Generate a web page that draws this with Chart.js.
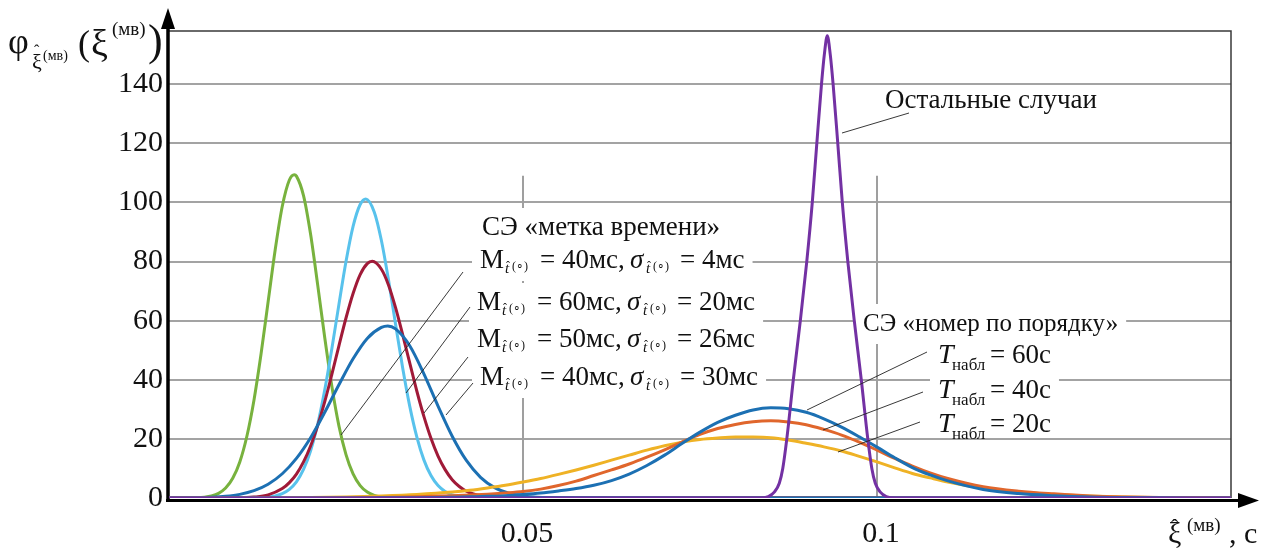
<!DOCTYPE html>
<html>
<head>
<meta charset="utf-8">
<script src="https://cdn.jsdelivr.net/npm/chart.js@4.4.0/dist/chart.umd.min.js"></script>
<style>
  body { margin: 0; background: #fff; }
</style>
</head>
<body>
<canvas id="chart" width="1269" height="549"></canvas>
<script>
const FONT = '"Liberation Serif", "Times New Roman", serif';

// axes
const xMax = 0.15;
const yMax = 158;
const yTicks = [0, 20, 40, 60, 80, 100, 120, 140];
const xTicks = [0.05, 0.1];
const xTickLabels = ['0.05', '0.1'];
const vGridTop = 109; // the two vertical grid lines start at this value

// "метка времени" curves
const greenX = [0, 0.004, 0.005, 0.006, 0.007, 0.008, 0.009, 0.010, 0.011, 0.012, 0.013, 0.014, 0.015, 0.016, 0.017, 0.0177, 0.018, 0.019, 0.020, 0.021, 0.022, 0.023, 0.024, 0.025, 0.026, 0.027, 0.028, 0.029, 0.030, 0.031, 0.032, 0.15];
const greenY = [0, 0.1, 0.27, 0.68, 1.57, 3.36, 6.66, 12.2, 20.9, 33.1, 48.7, 66.4, 84.0, 98.7, 107.6, 109.4, 108.9, 102.3, 89.2, 72.1, 54.2, 37.8, 24.4, 14.7, 8.15, 4.21, 2.02, 0.9, 0.37, 0.13, 0.04, 0];

const cyanX = [0, 0.014, 0.015, 0.016, 0.017, 0.018, 0.019, 0.020, 0.021, 0.022, 0.023, 0.024, 0.025, 0.026, 0.027, 0.0278, 0.029, 0.030, 0.031, 0.032, 0.033, 0.034, 0.035, 0.036, 0.037, 0.038, 0.039, 0.040, 0.041, 0.042, 0.043, 0.15];
const cyanY = [0, 0.31, 0.7, 1.47, 2.93, 5.48, 9.65, 16.0, 24.9, 36.6, 50.5, 65.5, 80.0, 91.9, 99.3, 101.2, 96.7, 87.1, 73.8, 58.8, 44.1, 31.1, 20.7, 12.9, 7.58, 4.19, 2.18, 1.07, 0.49, 0.21, 0.08, 0];

const redX = [0, 0.011, 0.012, 0.014, 0.016, 0.017, 0.018, 0.019, 0.020, 0.021, 0.022, 0.023, 0.024, 0.025, 0.026, 0.027, 0.028, 0.0287, 0.030, 0.031, 0.032, 0.033, 0.034, 0.035, 0.036, 0.037, 0.038, 0.039, 0.040, 0.041, 0.042, 0.043, 0.044, 0.046, 0.048, 0.15];
const redY = [0, 0.15, 0.3, 1.06, 3.18, 5.2, 8.1, 12.2, 17.6, 24.5, 32.6, 41.8, 51.5, 60.9, 69.2, 75.6, 79.3, 80.1, 77.4, 72.1, 64.4, 55.3, 45.7, 36.2, 27.6, 20.2, 14.2, 9.6, 6.2, 3.9, 2.3, 1.34, 0.74, 0.2, 0.05, 0];

const blueX = [0, 0.004, 0.006, 0.008, 0.010, 0.012, 0.014, 0.016, 0.018, 0.020, 0.022, 0.024, 0.026, 0.028, 0.030, 0.0309, 0.032, 0.034, 0.036, 0.038, 0.040, 0.042, 0.044, 0.046, 0.048, 0.050, 0.052, 0.055, 0.15];
const blueY = [0, 0.1, 0.24, 0.56, 1.22, 2.47, 4.65, 8.2, 13.4, 20.4, 29.0, 38.3, 47.1, 54.0, 57.7, 58.2, 57.2, 51.5, 42.0, 31.1, 20.9, 12.7, 7.0, 3.5, 1.6, 0.66, 0.25, 0.05, 0];

// "номер по порядку" curves, shared x grid
const wideX = [0, 0.015, 0.020, 0.025, 0.030, 0.035,
  0.040, 0.0425, 0.045, 0.0475, 0.050, 0.0525, 0.055, 0.0575, 0.060, 0.0625, 0.065, 0.0675, 0.070, 0.0725,
  0.075, 0.0775, 0.080, 0.0825, 0.085, 0.0875, 0.090, 0.0925, 0.095, 0.0975, 0.100, 0.1025, 0.105, 0.1075, 0.110,
  0.115, 0.120, 0.125, 0.130, 0.135, 0.140, 0.145, 0.150];
const t20Y = [0, 0.05, 0.15, 0.35, 0.7, 1.2,
  2.0, 2.6, 3.4, 4.3, 5.4, 6.6, 8.0, 9.5, 11.1, 12.8, 14.5, 16.2, 17.7, 18.9,
  19.8, 20.3, 20.6, 20.6, 20.4, 19.6, 18.5, 17.3, 15.9, 14.1, 12.2, 10.2, 8.3, 6.8, 5.4,
  3.3, 2.0, 1.2, 0.65, 0.3, 0.15, 0.05, 0];
const t40Y = [0, 0, 0.05, 0.1, 0.2, 0.4,
  0.8, 1.0, 1.3, 1.7, 2.2, 3.0, 4.2, 5.7, 7.6, 9.5, 11.5, 13.8, 16.3, 19.0,
  21.5, 23.5, 24.9, 25.8, 26.1, 25.7, 24.8, 23.2, 21.3, 18.9, 16.2, 13.4, 10.8, 8.5, 6.6,
  3.8, 2.3, 1.4, 0.7, 0.35, 0.15, 0.05, 0];
const t60Y = [0, 0, 0, 0, 0.05, 0.1,
  0.25, 0.4, 0.55, 0.8, 1.2, 1.7, 2.4, 3.2, 4.3, 5.9, 8.1, 11.0, 14.5, 18.5,
  22.3, 25.6, 28.0, 29.8, 30.5, 30.2, 29.0, 26.8, 24.0, 20.7, 17.2, 13.6, 10.3, 7.8, 5.8,
  2.9, 1.5, 0.8, 0.35, 0.15, 0.05, 0, 0];

// "Остальные случаи"
const purpleX = [0, 0.08338, 0.08465, 0.08549, 0.0862, 0.08669, 0.08726, 0.08818, 0.08917, 0.09008, 0.09086, 0.0915, 0.09216, 0.09256, 0.09298, 0.0934, 0.0938, 0.09446, 0.0951, 0.09588, 0.09679, 0.09778, 0.0987, 0.09927, 0.09976, 0.10047, 0.10131, 0.10258, 0.15];
const purpleY = [0, 0, 0.5, 2, 5, 10, 20, 40, 60, 80, 100, 120, 140, 150, 156.4, 150, 140, 120, 100, 80, 60, 40, 20, 10, 5, 2, 0.5, 0, 0];

function series(xs, ys, color, order) {
  return {
    data: xs.map((x, i) => ({ x: x, y: ys[i] })),
    borderColor: color,
    borderWidth: 3,
    pointRadius: 0,
    fill: false,
    cubicInterpolationMode: 'monotone',
    order: order
  };
}

// annotation text, in canvas pixels
const HAT = '\u02C6';
const mVals = [['40', '4'], ['60', '20'], ['50', '26'], ['40', '30']];
const mLeft = [480, 477, 477, 480];
const mBase = [268, 310, 347, 385];
const tVals = ['60', '40', '20'];
const tBase = [363, 398, 432];

// t̂(∘) subscript drawn from pieces, starting at dx
function tSub(dx) {
  return [
    { t: 't', dx: dx, s: 15, it: true, dy: 5 },
    { t: HAT, dx: dx + 1, s: 12, dy: 2 },
    { t: '(\u2218)', dx: dx + 7, s: 12, dy: 2 }
  ];
}
function mLine(i) {
  return {
    x: mLeft[i], y: mBase[i], box: [-27, 13],
    parts: [{ t: 'M', dx: 0, s: 27 }]
      .concat(tSub(25))
      .concat([
        { t: '= ' + mVals[i][0] + 'мс,', dx: 60, s: 27 },
        { t: 'σ', dx: 150, s: 27, it: true }
      ])
      .concat(tSub(166))
      .concat([{ t: '= ' + mVals[i][1] + 'мс', dx: 200, s: 27 }])
  };
}
function tLine(i) {
  return {
    x: 938, y: tBase[i], box: i === 2 ? null : [-24, 4],
    parts: [
      { t: 'T', dx: 0, s: 28, it: true },
      { t: 'набл', dx: 14, s: 17, dy: 7 },
      { t: '= ' + tVals[i] + 'с', dx: 52, s: 27 }
    ]
  };
}

const labels = [
  { x: 482, y: 235, box: [-27, 13], parts: [{ t: 'СЭ «метка времени»', dx: 0, s: 27 }] },
  mLine(0), mLine(1), mLine(2), mLine(3),
  { x: 863, y: 331, box: [-27, 13], parts: [{ t: 'СЭ «номер по порядку»', dx: 0, s: 25 }] },
  tLine(0), tLine(1), tLine(2),
  { x: 885, y: 108, box: null, parts: [{ t: 'Остальные случаи', dx: 0, s: 27 }] },
  // axis titles
  { x: 8, y: 52, box: null, parts: [
    { t: 'φ', dx: 0, s: 36, dy: 1 },
    { t: 'ξ', dx: 24, s: 22, dy: 17 },
    { t: HAT, dx: 26, s: 16, dy: 4 },
    { t: '(мв)', dx: 35, s: 14, dy: 8 },
    { t: '(', dx: 70, s: 36, dy: 3 },
    { t: 'ξ', dx: 83, s: 38, dy: 4 },
    { t: '(мв)', dx: 104, s: 19, dy: -17 },
    { t: ')', dx: 140, s: 44, dy: 3 }
  ] },
  { x: 1168, y: 543, box: null, parts: [
    { t: 'ξ', dx: 0, s: 30 },
    { t: HAT, dx: 3, s: 22, dy: -9 },
    { t: '(мв)', dx: 19, s: 19, dy: -12 },
    { t: ', с', dx: 61, s: 30 }
  ] }
];

// leader lines [x1, y1, x2, y2]
const leaders = [
  [463, 272, 341, 435],
  [470, 307, 406, 393],
  [468, 357, 424, 413],
  [473, 383, 446, 415],
  [927, 352, 807, 410],
  [923, 392, 823, 430],
  [920, 422, 838, 452],
  [909, 113, 842, 133]
];

function setFont(ctx, p) {
  ctx.font = (p.it ? 'italic ' : '') + p.s + 'px ' + FONT;
}

const decor = {
  id: 'decor',
  beforeDatasetsDraw(chart) {
    const ctx = chart.ctx;
    const a = chart.chartArea;
    const xs = chart.scales.x, ys = chart.scales.y;
    ctx.save();
    // vertical grid lines
    ctx.strokeStyle = '#9f9f9f';
    ctx.lineWidth = 2;
    xTicks.forEach(v => {
      const px = Math.round(xs.getPixelForValue(v));
      ctx.beginPath();
      ctx.moveTo(px, ys.getPixelForValue(vGridTop));
      ctx.lineTo(px, a.bottom);
      ctx.stroke();
    });
    // white boxes behind labels
    ctx.fillStyle = '#fff';
    labels.forEach(l => {
      if (!l.box) return;
      let right = l.x;
      l.parts.forEach(p => {
        setFont(ctx, p);
        right = Math.max(right, l.x + p.dx + ctx.measureText(p.t).width);
      });
      ctx.fillRect(l.x - 8, l.y + l.box[0], right - l.x + 16, l.box[1] - l.box[0]);
    });
    // frame: top and right
    ctx.strokeStyle = '#3a3a3a';
    ctx.lineWidth = 1.5;
    ctx.beginPath();
    ctx.moveTo(a.left, a.top);
    ctx.lineTo(a.right, a.top);
    ctx.lineTo(a.right, a.bottom);
    ctx.stroke();
    // axes with arrows
    ctx.strokeStyle = '#000';
    ctx.fillStyle = '#000';
    ctx.lineWidth = 3.5;
    ctx.beginPath();
    ctx.moveTo(a.left - 1, a.bottom + 3);
    ctx.lineTo(a.left - 1, 24);
    ctx.stroke();
    ctx.beginPath();
    ctx.moveTo(a.left - 1, 8);
    ctx.lineTo(a.left - 8, 29);
    ctx.lineTo(a.left + 6, 29);
    ctx.closePath();
    ctx.fill();
    ctx.lineWidth = 3;
    ctx.beginPath();
    ctx.moveTo(a.left - 3, a.bottom + 2.5);
    ctx.lineTo(1242, a.bottom + 2.5);
    ctx.stroke();
    ctx.beginPath();
    ctx.moveTo(1259, a.bottom + 2.5);
    ctx.lineTo(1238, a.bottom - 5);
    ctx.lineTo(1238, a.bottom + 10);
    ctx.closePath();
    ctx.fill();
    ctx.restore();
  },
  afterDatasetsDraw(chart) {
    const ctx = chart.ctx;
    ctx.save();
    ctx.strokeStyle = '#222';
    ctx.lineWidth = 0.9;
    leaders.forEach(l => {
      ctx.beginPath();
      ctx.moveTo(l[0], l[1]);
      ctx.lineTo(l[2], l[3]);
      ctx.stroke();
    });
    ctx.fillStyle = '#111';
    ctx.textBaseline = 'alphabetic';
    ctx.textAlign = 'left';
    labels.forEach(l => {
      l.parts.forEach(p => {
        setFont(ctx, p);
        ctx.fillText(p.t, l.x + p.dx, l.y + (p.dy || 0));
      });
    });
    ctx.restore();
  }
};

new Chart(document.getElementById('chart'), {
  type: 'line',
  data: {
    datasets: [
      series(purpleX, purpleY, '#7331a3', 0),
      series(wideX, t60Y, '#1c70b3', 1),
      series(wideX, t40Y, '#e0662c', 2),
      series(wideX, t20Y, '#efb225', 3),
      series(blueX, blueY, '#1c70b3', 4),
      series(redX, redY, '#a01a38', 5),
      series(cyanX, cyanY, '#58c2ec', 6),
      series(greenX, greenY, '#78b23e', 7)
    ]
  },
  options: {
    responsive: false,
    animation: false,
    layout: { padding: { top: 31, right: 38, left: 0, bottom: 0 } },
    plugins: { legend: { display: false }, tooltip: { enabled: false } },
    scales: {
      x: {
        type: 'linear',
        min: 0,
        max: xMax,
        afterBuildTicks: s => { s.ticks = xTicks.map(v => ({ value: v })); },
        afterFit: s => { s.height = 51; },
        grid: { display: false },
        border: { display: false },
        ticks: {
          callback: (v, i) => xTickLabels[i],
          font: { family: FONT, size: 30 },
          color: '#111',
          padding: 10,
          labelOffset: 4,
          maxRotation: 0
        }
      },
      y: {
        min: 0,
        max: yMax,
        afterBuildTicks: s => { s.ticks = yTicks.map(v => ({ value: v })); },
        afterFit: s => { s.width = 169; },
        grid: {
          color: c => (c.tick && c.tick.value === 0) ? 'rgba(0,0,0,0)' : '#a3a3a3',
          lineWidth: 2,
          drawTicks: false
        },
        border: { display: false },
        ticks: {
          font: { family: FONT, size: 30 },
          color: '#111',
          padding: 6
        }
      }
    }
  },
  plugins: [decor]
});
</script>
</body>
</html>
